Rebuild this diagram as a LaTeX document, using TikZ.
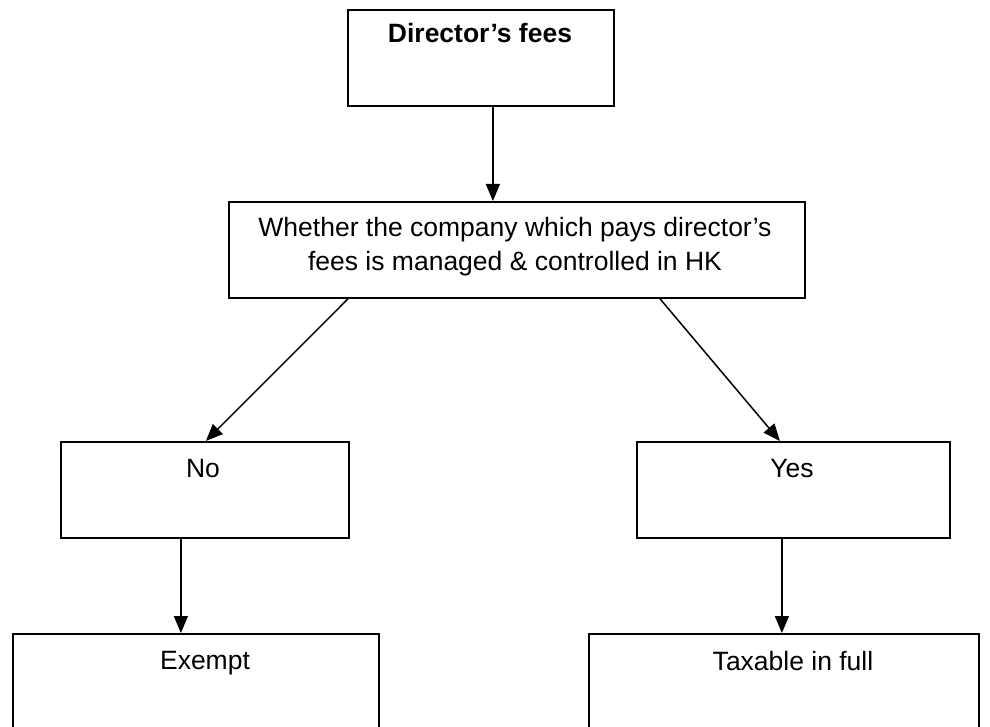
\documentclass[tikz,border=0pt]{standalone}
\usepackage{fontspec}
\setmainfont{Liberation Sans}
\usetikzlibrary{arrows.meta}
\begin{document}
\begin{tikzpicture}[x=1pt,y=-1pt,
  box/.style={draw,line width=1.8pt,inner sep=0pt,anchor=north west},
  lbl/.style={anchor=base,inner sep=0pt,font=\fontsize{26.5}{34}\selectfont},
  arr/.style={line width=1.5pt,-{Triangle[length=17pt,width=14pt]}}]
\useasboundingbox (0,0) rectangle (990,727);
\clip (0,0) rectangle (990,727);
\fill[white] (0,0) rectangle (990,727);
% boxes
\node[box,minimum width=266pt,minimum height=96pt] (dir) at (347,9) {};
\node[box,minimum width=576pt,minimum height=96pt] (whe) at (228,201) {};
\node[box,minimum width=288pt,minimum height=96pt] (no) at (60,441) {};
\node[box,minimum width=313pt,minimum height=96pt] (yes) at (636,441) {};
\node[box,minimum width=366pt,minimum height=130pt] (ex) at (12,633) {};
\node[box,minimum width=390pt,minimum height=130pt] (tax) at (588,633) {};
% labels
\node[lbl,font=\fontsize{26.5}{34}\selectfont\bfseries] (tdir) at (480,43) {Director’s fees};
\node[lbl] (twhe1) at (515,237) {Whether the company which pays director’s};
\node[lbl] (twhe2) at (515,271) {fees is managed \& controlled in HK};
\node[lbl] (tno) at (203,477) {No};
\node[lbl] (tyes) at (792,477) {Yes};
\node[lbl] (tex) at (205,669) {Exempt};
\node[lbl] (ttax) at (793,670) {Taxable in full};
% connectors
\draw[arr] ([xshift=12pt]dir.south) -- ([xshift=-24pt]whe.north);
\draw[arr] ([xshift=120pt]whe.south west) -- ([xshift=1pt]no.north);
\draw[arr] ([xshift=432pt]whe.south west) -- ([xshift=-13.5pt]yes.north);
\draw[arr] ([xshift=-24pt]no.south) -- ([xshift=-15pt]ex.north);
\draw[arr] ([xshift=-11.5pt]yes.south) -- ([xshift=-2pt]tax.north);
\end{tikzpicture}
\end{document}
